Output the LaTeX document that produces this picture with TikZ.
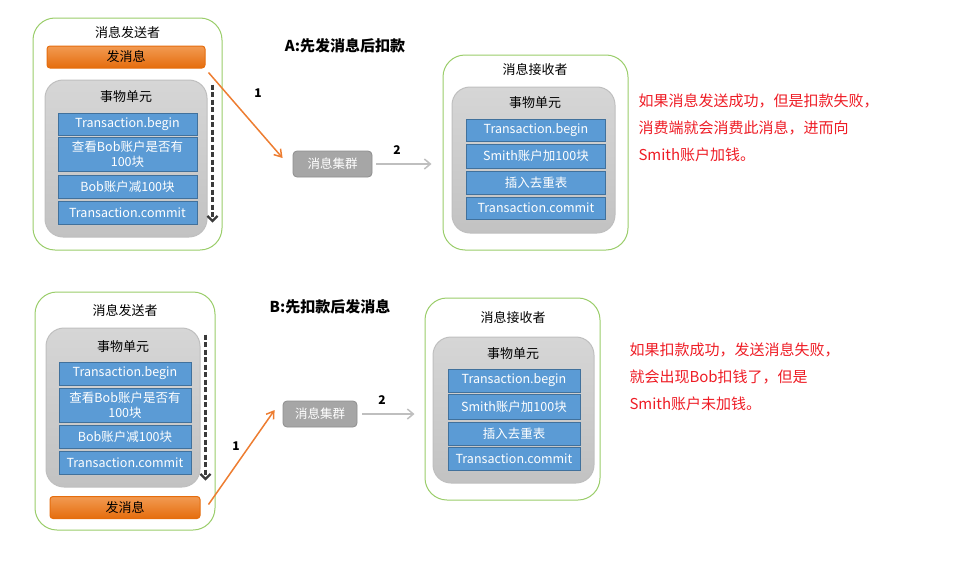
\documentclass[tikz,border=0pt]{standalone}
\usepackage{fontspec}
\setmainfont{Noto Sans CJK SC}
\usepackage{tikz}
\usetikzlibrary{arrows.meta}

\definecolor{framegreen}{HTML}{9ACD6A}
\definecolor{bartop}{HTML}{F29A52}
\definecolor{barbot}{HTML}{E56D0D}
\definecolor{stepblue}{HTML}{5B9BD5}
\definecolor{stepedge}{HTML}{41719C}
\definecolor{unittop}{HTML}{D6D6D6}
\definecolor{unitbot}{HTML}{C2C2C2}
\definecolor{clustergray}{HTML}{A6A6A6}
\definecolor{linkgray}{HTML}{BFBFBF}
\definecolor{sendorange}{HTML}{ED7D31}
\definecolor{notered}{HTML}{EE1C25}
\definecolor{flowgray}{HTML}{3A3A3A}

\begin{document}
\begin{tikzpicture}[x=1pt, y=-1pt, line width=1pt,
  outerbox/.style={draw=framegreen, rounded corners=22pt, inner sep=0pt},
  unitbox/.style={draw=linkgray, top color=unittop, bottom color=unitbot, rounded corners=18pt, inner sep=0pt},
  stepbox/.style={draw=stepedge, fill=stepblue, text=white, align=center, inner sep=0pt,
                  font=\fontsize{12.5}{15}\selectfont, line width=0.8pt},
  sendbar/.style={draw=barbot, top color=bartop, bottom color=barbot, rounded corners=3pt,
                  font=\fontsize{13}{15}\selectfont, inner sep=0pt},
  clusterbox/.style={draw=clustergray!85!black, fill=clustergray, text=white, rounded corners=4pt,
                  font=\fontsize{12.5}{15}\selectfont, inner sep=0pt, line width=0.8pt},
  boxtitle/.style={font=\fontsize{13}{15}\selectfont, inner sep=0pt},
  heading/.style={font=\fontsize{15}{18}\selectfont\bfseries, inner sep=0pt},
  steplabel/.style={font=\fontsize{12}{14}\selectfont\bfseries, inner sep=0pt},
  note/.style={text=notered, font=\fontsize{15}{27}\selectfont, align=left, inner sep=0pt, anchor=north west},
  sendlink/.style={draw=sendorange, line width=1.5pt, -{Straight Barb[length=7pt,width=9pt]}},
  passlink/.style={draw=linkgray, line width=1.5pt, -{Straight Barb[length=6pt,width=10pt]}},
  flow/.style={draw=flowgray, dash pattern=on 5pt off 2.5pt, line width=2.2pt,
               -{Straight Barb[length=5pt,width=10pt]}}]

  \useasboundingbox (0,0) rectangle (956,562);

  % ---------- A: sender ----------
  \node[outerbox, minimum width=189pt, minimum height=232pt] (sendA) at (127.5,134) {};
  \node[boxtitle] (sendAt) at (127.5,33) {消息发送者};
  \node[sendbar, minimum width=158pt, minimum height=22pt] (barA) at (126,57) {发消息};
  \node[unitbox, minimum width=162pt, minimum height=157pt] (unitA) at (126,158.5) {};
  \node[boxtitle] (unitAt) at (126,97) {事物单元};
  \node[stepbox, minimum width=139pt, minimum height=22pt] (stepA1) at (127.5,124) {Transaction.begin};
  \node[stepbox, minimum width=139pt, minimum height=34pt] (stepA2) at (127.5,154) {查看Bob账户是否有\\100块};
  \node[stepbox, minimum width=139pt, minimum height=23pt] (stepA3) at (127.5,186.5) {Bob账户减100块};
  \node[stepbox, minimum width=139pt, minimum height=23pt] (stepA4) at (127.5,212.5) {Transaction.commit};
  \draw[flow] ([shift={(5,5)}]unitA.north east) -- ([shift={(5,-15)}]unitA.south east);

  % ---------- A: cluster and receiver ----------
  \node[heading] (headA) at (345,46) {A:先发消息后扣款};
  \node[clusterbox, minimum width=79pt, minimum height=26pt] (clusterA) at (332.5,164) {消息集群};

  \node[outerbox, minimum width=185pt, minimum height=195pt] (recvA) at (535.5,152.5) {};
  \node[boxtitle] (recvAt) at (535,70) {消息接收者};
  \node[unitbox, minimum width=163pt, minimum height=146pt] (unitRA) at (533.5,160) {};
  \node[boxtitle] (unitRAt) at (535,103) {事物单元};
  \node[stepbox, minimum width=139pt, minimum height=22pt] (stepRA1) at (536,130.5) {Transaction.begin};
  \node[stepbox, minimum width=139pt, minimum height=24pt] (stepRA2) at (536,156) {Smith账户加100块};
  \node[stepbox, minimum width=139pt, minimum height=23pt] (stepRA3) at (536,182.5) {插入去重表};
  \node[stepbox, minimum width=139pt, minimum height=22pt] (stepRA4) at (536,208) {Transaction.commit};

  \draw[sendlink] ([shift={(3,4)}]barA.south east) -- ([shift={(-10,-6)}]clusterA.west);
  \node[steplabel] (oneA) at (258,93) {1};
  \draw[passlink, shorten <=4pt, shorten >=11pt] (clusterA.east) -- (clusterA.east -| recvA.west);
  \node[steplabel] (twoA) at (397,150) {2};

  \node[note] (noteA) at (638,93) {如果消息发送成功，但是扣款失败，\\消费端就会消费此消息，进而向\\Smith账户加钱。};

  % ---------- B: sender ----------
  \node[outerbox, minimum width=180pt, minimum height=238pt] (sendB) at (125,411) {};
  \node[boxtitle] (sendBt) at (125,311) {消息发送者};
  \node[unitbox, minimum width=154pt, minimum height=159pt] (unitB) at (123,407.5) {};
  \node[boxtitle] (unitBt) at (123,347) {事物单元};
  \node[stepbox, minimum width=132pt, minimum height=23pt] (stepB1) at (125,373.5) {Transaction.begin};
  \node[stepbox, minimum width=132pt, minimum height=34pt] (stepB2) at (125,405) {查看Bob账户是否有\\100块};
  \node[stepbox, minimum width=132pt, minimum height=23pt] (stepB3) at (125,436.5) {Bob账户减100块};
  \node[stepbox, minimum width=132pt, minimum height=23pt] (stepB4) at (125,463) {Transaction.commit};
  \node[sendbar, minimum width=150pt, minimum height=22pt] (barB) at (125,507.5) {发消息};
  \draw[flow] ([shift={(5,7)}]unitB.north east) -- ([shift={(5,-7)}]unitB.south east);

  % ---------- B: cluster and receiver ----------
  \node[heading] (headB) at (330,307) {B:先扣款后发消息};
  \node[clusterbox, minimum width=74pt, minimum height=26pt] (clusterB) at (320,414) {消息集群};

  \node[outerbox, minimum width=175pt, minimum height=202pt] (recvB) at (512.5,399) {};
  \node[boxtitle] (recvBt) at (513,318) {消息接收者};
  \node[unitbox, minimum width=161pt, minimum height=146pt] (unitRB) at (513.5,410) {};
  \node[boxtitle] (unitRBt) at (513,354) {事物单元};
  \node[stepbox, minimum width=132pt, minimum height=23pt] (stepRB1) at (514,380.5) {Transaction.begin};
  \node[stepbox, minimum width=132pt, minimum height=25pt] (stepRB2) at (514,406.5) {Smith账户加100块};
  \node[stepbox, minimum width=132pt, minimum height=23pt] (stepRB3) at (514,433.5) {插入去重表};
  \node[stepbox, minimum width=132pt, minimum height=23pt] (stepRB4) at (514,458.5) {Transaction.commit};

  \draw[sendlink] ([shift={(8,-3)}]barB.east) -- ([shift={(-8,-4)}]clusterB.west);
  \node[steplabel] (oneB) at (236,446) {1};
  \draw[passlink, shorten <=5pt, shorten >=10pt] (clusterB.east) -- (clusterB.east -| recvB.west);
  \node[steplabel] (twoB) at (382,400) {2};

  \node[note] (noteB) at (629,342) {如果扣款成功，发送消息失败，\\就会出现Bob扣钱了，但是\\Smith账户未加钱。};

\end{tikzpicture}
\end{document}
